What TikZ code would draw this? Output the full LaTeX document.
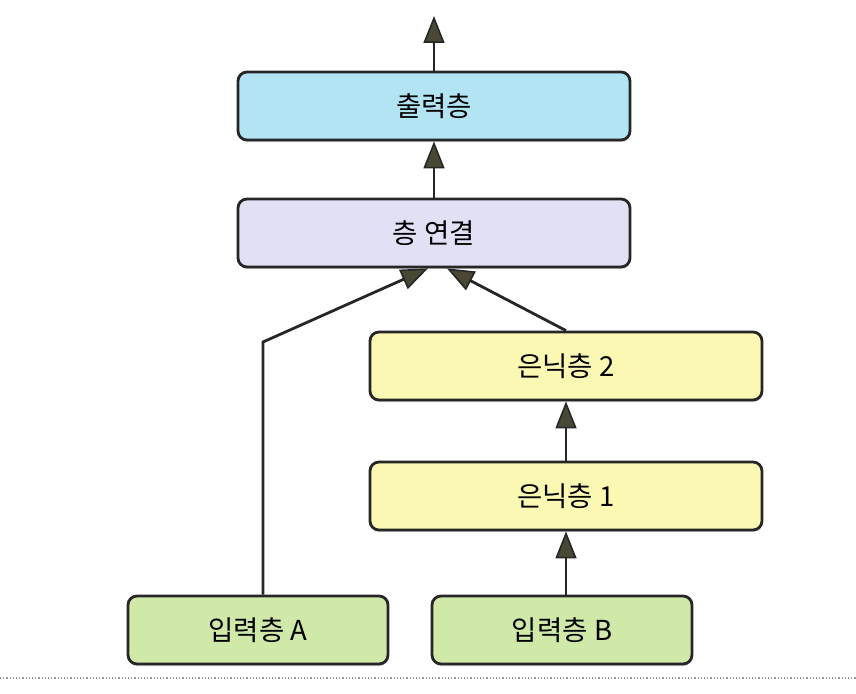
\documentclass[tikz,border=0pt]{standalone}
\usepackage{fontspec}
\setmainfont{Noto Sans CJK KR}
\usetikzlibrary{arrows.meta,shadows}
\definecolor{outc}{RGB}{178,228,244}
\definecolor{catc}{RGB}{226,224,245}
\definecolor{hidc}{RGB}{250,248,178}
\definecolor{inc}{RGB}{208,232,168}
\definecolor{tipc}{RGB}{72,72,52}
\tikzset{
  layer/.style={draw=black!85, line width=2.8pt, rounded corners=9pt, minimum height=68pt,
    font=\fontsize{27.5}{32}\selectfont, drop shadow={shadow xshift=0.5pt, shadow yshift=-2pt, opacity=0.35}},
  conn/.style={draw=black!85, line width=2.8pt,
    -{Triangle[open, fill=tipc, length=27pt, width=21pt, line width=1.6pt]}}
}
\begin{document}
\begin{tikzpicture}[x=1pt,y=-1pt]
\useasboundingbox (0,0) rectangle (856,693);
\node[layer, fill=outc, minimum width=392pt] (out) at (434,106) {출력층};
\node[layer, fill=catc, minimum width=392pt] (cat) at (434,233) {층 연결};
\node[layer, fill=hidc, minimum width=392pt] (h2) at (566,366) {은닉층 2};
\node[layer, fill=hidc, minimum width=392pt] (h1) at (566,496) {은닉층 1};
\node[layer, fill=inc, minimum width=260pt] (ia) at (258,630) {입력층 A};
\node[layer, fill=inc, minimum width=260pt] (ib) at (562,630) {입력층 B};
\coordinate (top) at (434,16);
\coordinate (bend) at (263,342);
\draw[conn] (out.north) -- (top);
\draw[conn] (cat.north) -- (out.south);
\draw[conn] (ia.north -| bend) -- (bend) -- ([xshift=-6pt]cat.south);
\draw[conn] (h2.north) -- ([xshift=13pt]cat.south);
\draw[conn] (h1.north) -- (h2.south);
\draw[conn] (ib.north -| h1.south) -- (h1.south);
\draw[black!40, line width=1.2pt, dotted] (0,678) -- (856,678);
\end{tikzpicture}
\end{document}
